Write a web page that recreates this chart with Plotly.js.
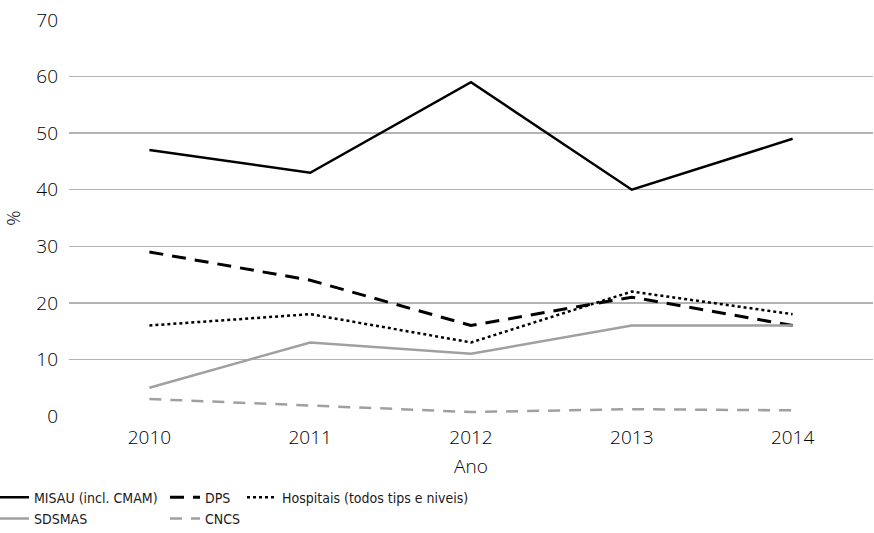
<!DOCTYPE html>
<html><head><meta charset="utf-8">
<script src="https://cdn.plot.ly/plotly-3.0.1.min.js"></script>
<style>html,body{margin:0;padding:0;background:#fff}</style>
</head><body>
<div id="chart" style="width:874px;height:533px"></div>
<script>
const years = ['2010','2011','2012','2013','2014'];
const misau = [47, 43, 59, 40, 49];
const dps = [29, 24, 16, 21, 16];
const hospitais = [16, 18, 13, 22, 18];
const sdsmas = [5, 13, 11, 16, 16];
const cncs = [3, 1.9, 0.7, 1.2, 1.0];
const names = ['MISAU (incl. CMAM)', 'DPS', 'Hospitais (todos tips e niveis)', 'SDSMAS', 'CNCS'];

const tickFont = {family: 'Open Sans, DejaVu Sans, sans-serif', size: 19, color: '#000000', weight: 300};
const legFont = {family: 'Liberation Sans Narrow, DejaVu Sans Condensed, sans-serif', size: 14, color: '#1a1a1a'};

function tr(y, name, color, width, dash, legend) {
  return {x: years, y: y, name: name, type: 'scatter', mode: 'lines',
    line: {color: color, width: width, dash: dash}, legend: legend, hoverinfo: 'skip'};
}
const data = [
  tr(misau, names[0], '#000000', 2.5, 'solid', 'legend'),
  tr(dps, names[1], '#000000', 3, '14px,9px', 'legend2'),
  tr(hospitais, names[2], '#000000', 2.5, 'dot', 'legend3'),
  tr(sdsmas, names[3], '#a0a0a0', 2.5, 'solid', 'legend'),
  tr(cncs, names[4], '#a0a0a0', 2.5, '12px,9px', 'legend2')
];
const legY = -0.166;
const legBase = {orientation: 'v', xanchor: 'left', yanchor: 'top', y: legY,
  font: legFont, bgcolor: 'rgba(0,0,0,0)', itemwidth: 30, tracegroupgap: 0, traceorder: 'normal'};
const layout = {
  width: 874, height: 533,
  margin: {l: 69, r: 1, t: 20, b: 117, autoexpand: false},
  paper_bgcolor: '#fff', plot_bgcolor: '#fff',
  showlegend: true,
  xaxis: {type: 'category', range: [-0.5, 4.5], showgrid: false, showline: false, zeroline: false, ticks: '',
    tickfont: tickFont, ticklabelstandoff: 8,
    title: {text: 'Ano', font: tickFont, standoff: 10}},
  yaxis: {range: [0, 70], dtick: 10, tick0: 0, showgrid: true, gridcolor: '#b3b3b3', gridwidth: 1.5,
    zeroline: false, showline: false, ticks: '', tickfont: tickFont, ticklabelstandoff: 10,
    title: {text: '%', font: tickFont, standoff: 10}},
  legend: Object.assign({}, legBase, {x: -0.0933}),
  legend2: Object.assign({}, legBase, {x: 0.1194}),
  legend3: Object.assign({}, legBase, {x: 0.2152})
};
Plotly.newPlot('chart', data, layout, {displayModeBar: false, staticPlot: true});
</script>
</body></html>
